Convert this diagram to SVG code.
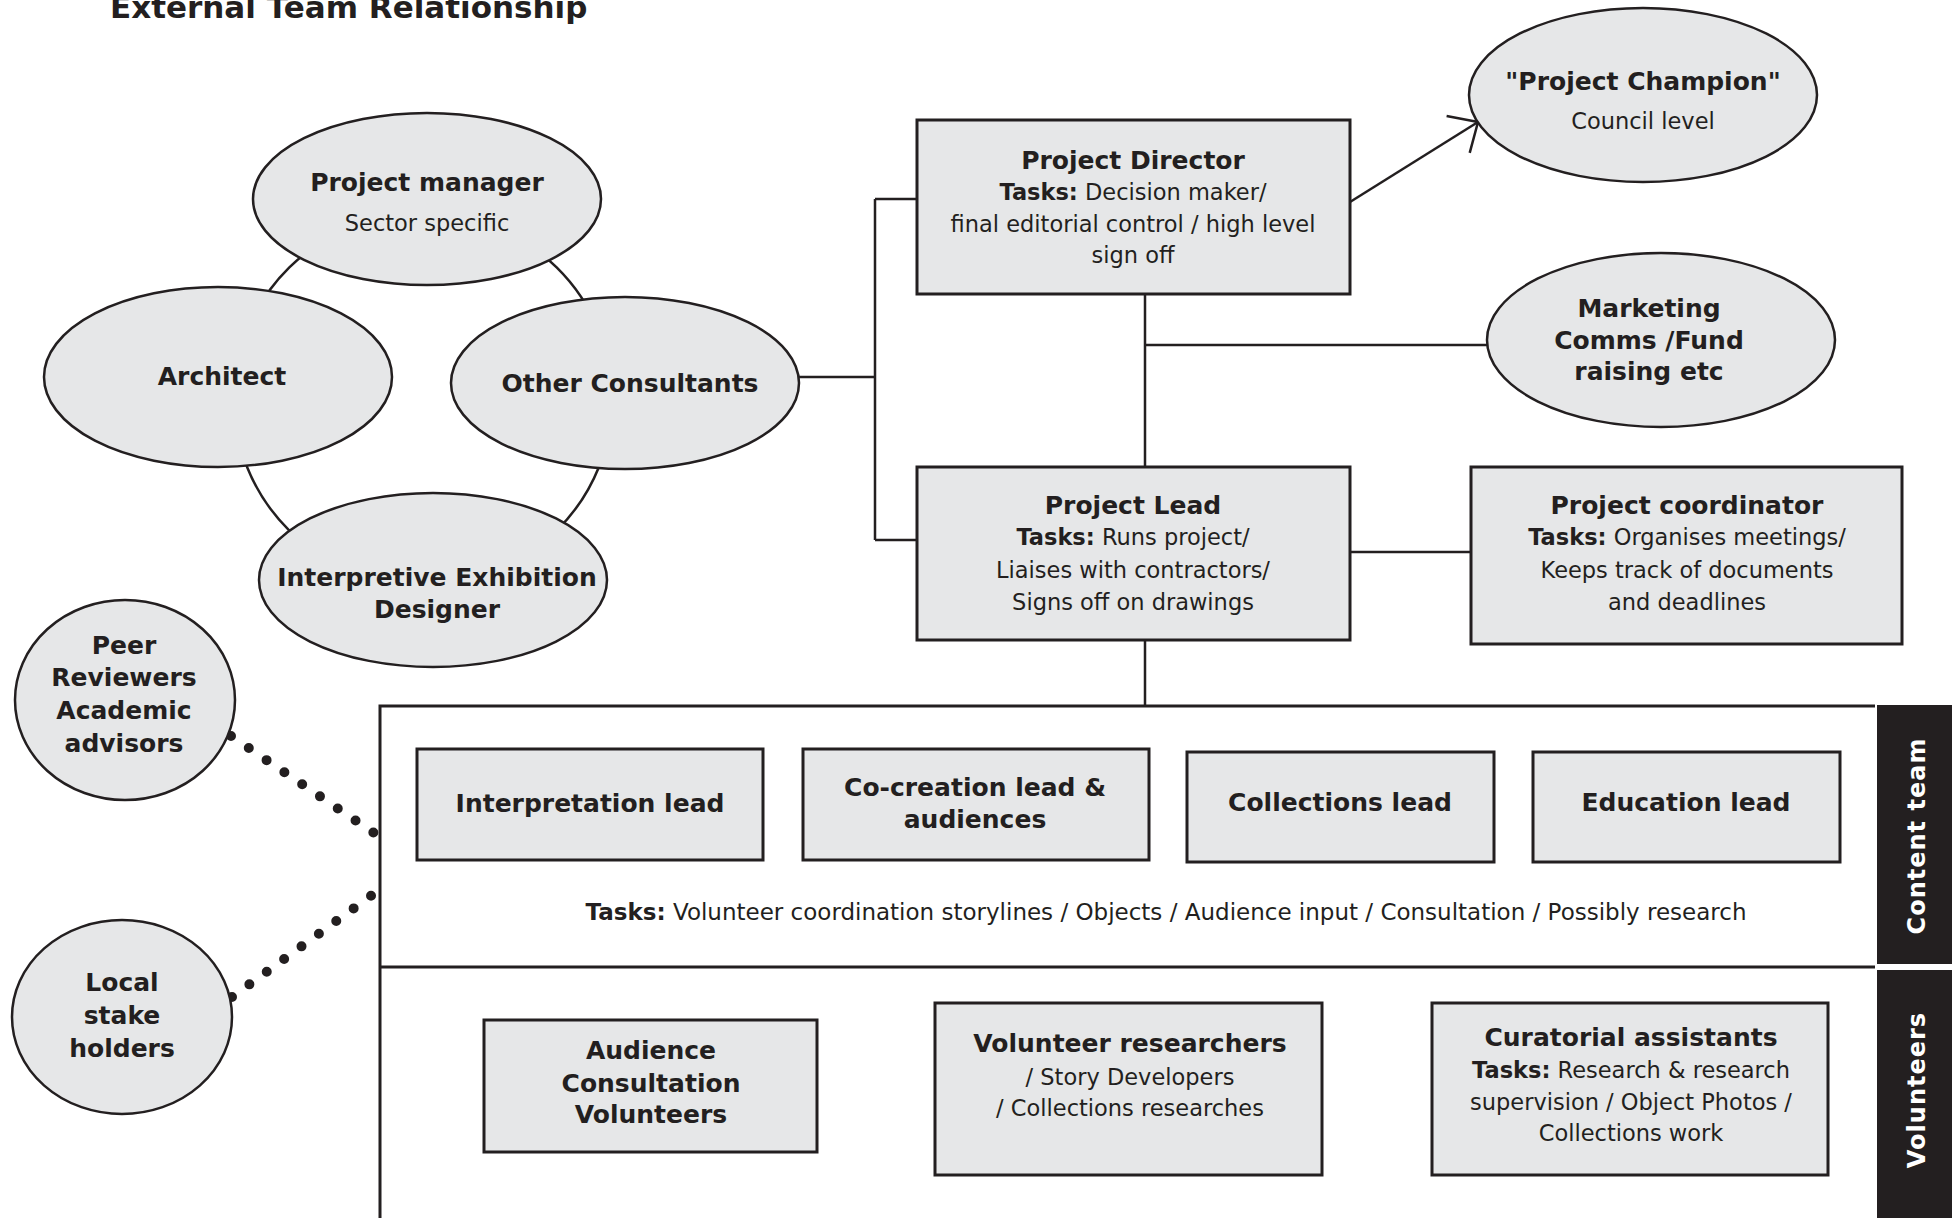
<svg xmlns="http://www.w3.org/2000/svg" width="1952" height="1218" viewBox="0 0 1952 1218">
<style>
.sh{fill:#e6e7e8;stroke:#231f20;stroke-width:2.5}
.bx{fill:#e6e7e8;stroke:#231f20;stroke-width:3}
.ln{fill:none;stroke:#231f20;stroke-width:2.5}
.fr{fill:none;stroke:#231f20;stroke-width:3}
.dots{fill:none;stroke:#231f20;stroke-width:10;stroke-linecap:round;stroke-dasharray:0 21.5}
text{font-family:"DejaVu Sans","Liberation Sans",sans-serif;fill:#231f20;text-anchor:middle}
.b{font-weight:bold;font-size:25px}
.r{font-size:22.5px}
.tb{font-weight:bold}
.lab{font-weight:bold;font-size:24px;fill:#ffffff;letter-spacing:1px}
</style>
<defs>
<marker id="arr" viewBox="-30 -26 34 52" refX="0" refY="0" markerWidth="34" markerHeight="52" markerUnits="userSpaceOnUse" orient="auto">
<path d="M-23.4,-21.8 L0,0 L-23.4,21.8" fill="none" stroke="#231f20" stroke-width="2.5"/>
</marker>
</defs>
<rect width="1952" height="1218" fill="#ffffff"/>
<text x="110" y="18" style="text-anchor:start;font-weight:bold;font-size:31px">External Team Relationship</text>

<g id="connectors">
<ellipse class="ln" cx="423" cy="399" rx="189" ry="186"/>
<path class="ln" d="M799,377 H875 M875,199 V540 M875,199 H917 M875,540 H917"/>
<path class="ln" d="M1145,294 V467 M1145,345 H1488 M1349,552 H1471 M1145,640 V706"/>
<path class="ln" d="M1350,202 L1478,122" marker-end="url(#arr)"/>
<path class="dots" d="M231,736 L374,833"/>
<path class="dots" d="M232,997 L372,895"/>
<path class="fr" d="M1875,706 H380 V1218 M380,967 H1875"/>
</g>

<g id="project-manager">
<ellipse class="sh" cx="427" cy="199" rx="174" ry="86"/>
<text class="b" x="427" y="191">Project manager</text>
<text class="r" x="427" y="231">Sector specific</text>
</g>
<g id="architect">
<ellipse class="sh" cx="218" cy="377" rx="174" ry="90"/>
<text class="b" x="222" y="385">Architect</text>
</g>
<g id="other-consultants">
<ellipse class="sh" cx="625" cy="383" rx="174" ry="86"/>
<text class="b" x="630" y="392">Other Consultants</text>
</g>
<g id="exhibition-designer">
<ellipse class="sh" cx="433" cy="580" rx="174" ry="87"/>
<text class="b" x="437" y="586">Interpretive Exhibition</text>
<text class="b" x="437" y="618">Designer</text>
</g>
<g id="project-champion">
<ellipse class="sh" cx="1643" cy="95" rx="174" ry="87"/>
<text class="b" x="1643" y="90">"Project Champion"</text>
<text class="r" x="1643" y="129">Council level</text>
</g>
<g id="marketing">
<ellipse class="sh" cx="1661" cy="340" rx="174" ry="87"/>
<text class="b" x="1649" y="317">Marketing</text>
<text class="b" x="1649" y="349">Comms /Fund</text>
<text class="b" x="1649" y="380">raising etc</text>
</g>
<g id="project-director">
<rect class="bx" x="917" y="120" width="433" height="174"/>
<text class="b" x="1133" y="169">Project Director</text>
<text class="r" x="1133" y="200"><tspan class="tb">Tasks:</tspan> Decision maker/</text>
<text class="r" x="1133" y="232">final editorial control / high level</text>
<text class="r" x="1133" y="263">sign off</text>
</g>
<g id="project-lead">
<rect class="bx" x="917" y="467" width="433" height="173"/>
<text class="b" x="1133" y="514">Project Lead</text>
<text class="r" x="1133" y="545"><tspan class="tb">Tasks:</tspan> Runs project/</text>
<text class="r" x="1133" y="578">Liaises with contractors/</text>
<text class="r" x="1133" y="610">Signs off on drawings</text>
</g>
<g id="project-coordinator">
<rect class="bx" x="1471" y="467" width="431" height="177"/>
<text class="b" x="1687" y="514">Project coordinator</text>
<text class="r" x="1687" y="545"><tspan class="tb">Tasks:</tspan> Organises meetings/</text>
<text class="r" x="1687" y="578">Keeps track of documents</text>
<text class="r" x="1687" y="610">and deadlines</text>
</g>
<g id="peer-reviewers">
<ellipse class="sh" cx="125" cy="700" rx="110" ry="100"/>
<text class="b" x="124" y="654">Peer</text>
<text class="b" x="124" y="686">Reviewers</text>
<text class="b" x="124" y="719">Academic</text>
<text class="b" x="124" y="752">advisors</text>
</g>
<g id="local-stakeholders">
<ellipse class="sh" cx="122" cy="1017" rx="110" ry="97"/>
<text class="b" x="122" y="991">Local</text>
<text class="b" x="122" y="1024">stake</text>
<text class="b" x="122" y="1057">holders</text>
</g>
<g id="interpretation-lead">
<rect class="bx" x="417" y="749" width="346" height="111"/>
<text class="b" x="590" y="812">Interpretation lead</text>
</g>
<g id="co-creation-lead">
<rect class="bx" x="803" y="749" width="346" height="111"/>
<text class="b" x="975" y="796">Co-creation lead &amp;</text>
<text class="b" x="975" y="828">audiences</text>
</g>
<g id="collections-lead">
<rect class="bx" x="1187" y="752" width="307" height="110"/>
<text class="b" x="1340" y="811">Collections lead</text>
</g>
<g id="education-lead">
<rect class="bx" x="1533" y="752" width="307" height="110"/>
<text class="b" x="1686" y="811">Education lead</text>
</g>
<g id="content-tasks">
<text x="1166" y="920" style="font-size:23px"><tspan class="tb">Tasks:</tspan> Volunteer coordination storylines / Objects / Audience input / Consultation / Possibly research</text>
</g>
<g id="audience-volunteers">
<rect class="bx" x="484" y="1020" width="333" height="132"/>
<text class="b" x="651" y="1059">Audience</text>
<text class="b" x="651" y="1092">Consultation</text>
<text class="b" x="651" y="1123">Volunteers</text>
</g>
<g id="volunteer-researchers">
<rect class="bx" x="935" y="1003" width="387" height="172"/>
<text class="b" x="1130" y="1052">Volunteer researchers</text>
<text class="r" x="1130" y="1085">/ Story Developers</text>
<text class="r" x="1130" y="1116">/ Collections researches</text>
</g>
<g id="curatorial-assistants">
<rect class="bx" x="1432" y="1003" width="396" height="172"/>
<text class="b" x="1631" y="1046">Curatorial assistants</text>
<text class="r" x="1631" y="1078"><tspan class="tb">Tasks:</tspan> Research &amp; research</text>
<text class="r" x="1631" y="1110">supervision / Object Photos /</text>
<text class="r" x="1631" y="1141">Collections work</text>
</g>
<g id="content-team-label">
<rect x="1877" y="705" width="75" height="259" fill="#231f20"/>
<text class="lab" transform="translate(1925,836) rotate(-90)">Content team</text>
</g>
<g id="volunteers-label">
<rect x="1877" y="970" width="75" height="248" fill="#231f20"/>
<text class="lab" transform="translate(1925,1090) rotate(-90)">Volunteers</text>
</g>
</svg>
